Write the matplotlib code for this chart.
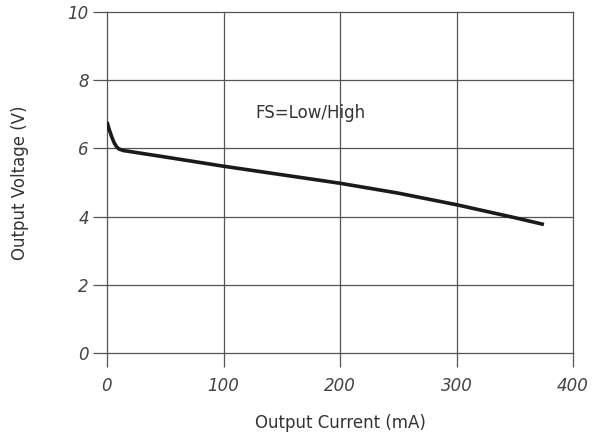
import matplotlib
matplotlib.use("Agg")
import matplotlib.pyplot as plt

# Output voltage vs output current
corriente = [0, 2, 4, 6, 8, 10, 14, 50, 100, 150, 200, 250, 300, 350, 375]
voltaje = [6.78, 6.55, 6.35, 6.18, 6.06, 5.99, 5.94, 5.75, 5.48, 5.23, 4.98, 4.69, 4.35, 3.97, 3.77]

xticks = [0, 100, 200, 300, 400]
yticks = [0, 2, 4, 6, 8, 10]

plt.rcParams['font.family'] = ['DejaVu Sans']

fig = plt.figure(figsize=(5.96, 4.41), dpi=100)
ax = fig.add_axes([0.1795, 0.1995, 0.782, 0.773])

ax.plot(corriente, voltaje, color='#1a1a1a', linewidth=2.6, solid_capstyle='butt')

ax.set_xlim(0, 400)
ax.set_ylim(0, 10)
ax.set_xticks(xticks)
ax.set_yticks(yticks)
ax.grid(True, color='#555555', linewidth=0.9)
for g in ax.get_xgridlines() + ax.get_ygridlines():
    g.set_clip_on(False)
for s in ax.spines.values():
    s.set_visible(False)
ax.tick_params(length=10, width=0.9, color='#555555', labelsize=12,
               labelcolor='#444444')
ax.tick_params(axis='x', pad=7)
ax.tick_params(axis='y', pad=3)
for lbl in ax.get_xticklabels() + ax.get_yticklabels():
    lbl.set_fontstyle('italic')
    lbl.set_fontweight('light')

ax.text(175, 7.05, 'FS=Low/High', ha='center', va='center', fontsize=12, color='#333333')
ax.set_xlabel('Output Current (mA)', fontsize=12, color='#333333', labelpad=14)
ax.set_ylabel('Output Voltage (V)', fontsize=12, color='#333333', labelpad=28)

fig.savefig('out.png', dpi=100)
